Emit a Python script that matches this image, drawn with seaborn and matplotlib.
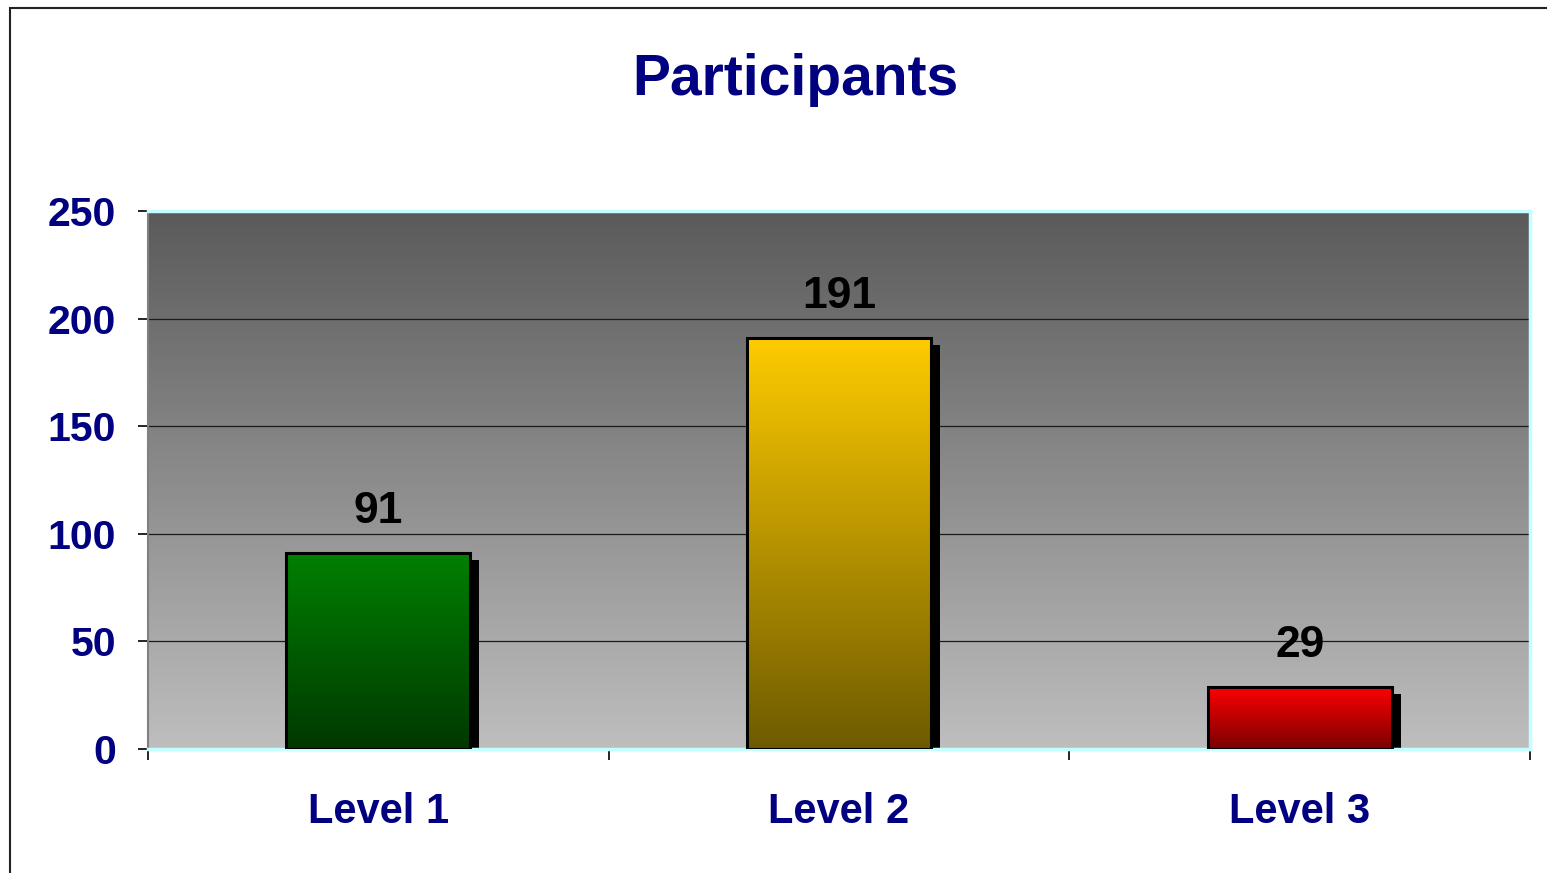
import numpy as np
import pandas as pd
import matplotlib
matplotlib.use("Agg")
import matplotlib.pyplot as plt
import matplotlib.transforms as mtransforms
from matplotlib.colors import LinearSegmentedColormap
from matplotlib.patches import Rectangle
import seaborn as sns

levels = ["Level 1", "Level 2", "Level 3"]
participants = [91, 191, 29]
y_ticks = [0, 50, 100, 150, 200, 250]

# gradient colours for each bar: top -> bottom
bar_top = ["#008000", "#ffcc00", "#ff0000"]
bar_bottom = ["#003800", "#6e5a00", "#7a0000"]

navy = "#000080"

sns.set_style("white")
plt.rcParams["font.family"] = ["Liberation Sans", "DejaVu Sans"]
plt.rcParams["font.weight"] = "bold"

fig = plt.figure(figsize=(15.47, 8.73), dpi=100)
ax = fig.add_axes([148 / 1547, 1 - 749 / 873, (1530 - 148) / 1547, (749 - 211) / 873])

df = pd.DataFrame({"level": levels, "participants": participants})
sns.barplot(data=df, x="level", y="participants", hue="level", palette=bar_top,
            legend=False, width=0.4, edgecolor="black", linewidth=2.2, ax=ax,
            zorder=3)

# background gradient of the plot area
bg = LinearSegmentedColormap.from_list("bg", ["#bebebe", "#5a5a5a"])
ax.imshow(np.linspace(0, 1, 256).reshape(-1, 1), cmap=bg, origin="lower",
          extent=[0, 1, 0, 1], transform=ax.transAxes, aspect="auto", zorder=0)

# shadows and gradient fills
shadow_tr = mtransforms.offset_copy(ax.transData, fig=fig, x=9, y=-7, units="dots")
for i, patch in enumerate(ax.patches):
    x0, w, h = patch.get_x(), patch.get_width(), patch.get_height()
    ax.add_patch(Rectangle((x0, 0), w, h, facecolor="black", edgecolor="none",
                           transform=shadow_tr, zorder=2, clip_on=True))
    cmap = LinearSegmentedColormap.from_list("b%d" % i, [bar_bottom[i], bar_top[i]])
    im = ax.imshow(np.linspace(0, 1, 256).reshape(-1, 1), cmap=cmap, origin="lower",
                   extent=[x0, x0 + w, 0, h], aspect="auto", zorder=3.5)
    im.set_clip_path(patch)
    patch.set_facecolor("none")
    patch.set_zorder(4)

for cont in ax.containers:
    ax.bar_label(cont, padding=15, fontsize=32, fontweight="bold", color="black")

ax.set_xlim(-0.5, 2.5)
ax.set_ylim(0, 250)
ax.set_aspect("auto")

# grid
for y in y_ticks[1:-1]:
    ax.axhline(y, color="#1a1a1a", linewidth=0.9, zorder=1)

ax.set_yticks(y_ticks)
ax.set_xticks([-0.5, 0.5, 1.5, 2.5])
ax.set_xticklabels([])
ax.set_xticks([0, 1, 2], minor=True)
ax.set_xticklabels(levels, minor=True)
ax.tick_params(axis="x", which="major", length=8, width=1.2, color="black", direction="out")
ax.tick_params(axis="x", which="minor", length=0, pad=31, labelsize=30, labelcolor=navy)
ax.tick_params(axis="y", length=7, width=1.2, color="black", direction="out", pad=16,
               labelsize=29.5, labelcolor=navy)
ax.tick_params(bottom=True, left=True)
for lab in ax.get_xticklabels(minor=True) + ax.get_yticklabels():
    lab.set_fontweight("bold")

ax.set_xlabel("")
ax.set_ylabel("")
for side in ["top", "right", "bottom"]:
    ax.spines[side].set_color("#c4ffff")
    ax.spines[side].set_linewidth(2.5)
ax.spines["left"].set_color("#808080")
ax.spines["left"].set_linewidth(1.5)

fig.text(795 / 1547, 1 - 80 / 873, "Participants", ha="center", va="center",
         fontsize=41, fontweight="bold", color=navy)

# outer chart frame
fig.add_artist(Rectangle((10 / 1547, -0.05), 1.2, 1 - 8 / 873 + 0.05,
                         transform=fig.transFigure, facecolor="none",
                         edgecolor="#222222", linewidth=1.5))

fig.savefig("out.png", dpi=100)
